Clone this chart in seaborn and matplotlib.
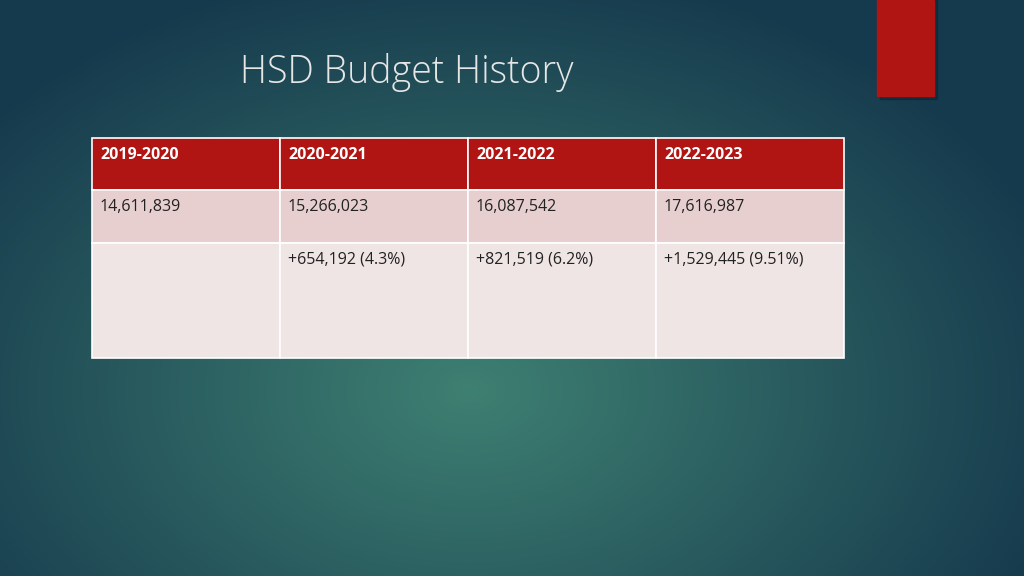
import numpy as np
import matplotlib
matplotlib.use("Agg")
import matplotlib.pyplot as plt
import seaborn as sns
from matplotlib.patches import Rectangle

sns.set_theme(style="white")

years = ["2019-2020", "2020-2021", "2021-2022", "2022-2023"]
budgets = ["14,611,839", "15,266,023", "16,087,542", "17,616,987"]
changes = ["", "+654,192 (4.3%)", "+821,519 (6.2%)", "+1,529,445 (9.51%)"]

fig = plt.figure(figsize=(10.24, 5.76), dpi=100)
ax = fig.add_axes([0, 0, 1, 1])
ax.set_xlim(0, 1024); ax.set_ylim(576, 0); ax.axis("off")

# radial gradient background
yy, xx = np.mgrid[0:576, 0:1024]
d = np.sqrt(((xx - 470) / 620) ** 2 + ((yy - 390) / 430) ** 2)
d = np.clip(d, 0, 1)
c0 = np.array([0x3e, 0x80, 0x72]) / 255
c1 = np.array([0x16, 0x3a, 0x4d]) / 255
img = c0[None, None, :] * (1 - d[..., None]) + c1[None, None, :] * d[..., None]
ax.imshow(img, extent=[0, 1024, 576, 0], aspect="auto", zorder=0)

# red tab
ax.add_patch(Rectangle((880, 0), 57, 99, color="#0a1f28", alpha=0.4, zorder=1))
ax.add_patch(Rectangle((877, 0), 57, 96, color="#B01513", zorder=2))

ax.text(240, 72, "HSD Budget History", fontsize=27, color="#E6E6E6",
        family="Open Sans", weight="light", va="center", ha="left", zorder=3)

xs = [92, 280, 468, 656, 844]
rows = [(138, 190, "#B01513", years, "white", "bold"),
        (190, 243, "#E7CFD0", budgets, "#222222", "normal"),
        (243, 358, "#F0E5E5", changes, "#222222", "normal")]
for y0, y1, col, vals, tc, fw in rows:
    for i, v in enumerate(vals):
        ax.add_patch(Rectangle((xs[i], y0), xs[i + 1] - xs[i], y1 - y0,
                               facecolor=col, edgecolor="white", lw=1.2, zorder=3))
        ax.text(xs[i] + 8, y0 + 17, v, fontsize=11.5, color=tc, weight=fw,
                family="Open Sans", va="center", ha="left", zorder=4)

fig.savefig("out.png", dpi=100)
